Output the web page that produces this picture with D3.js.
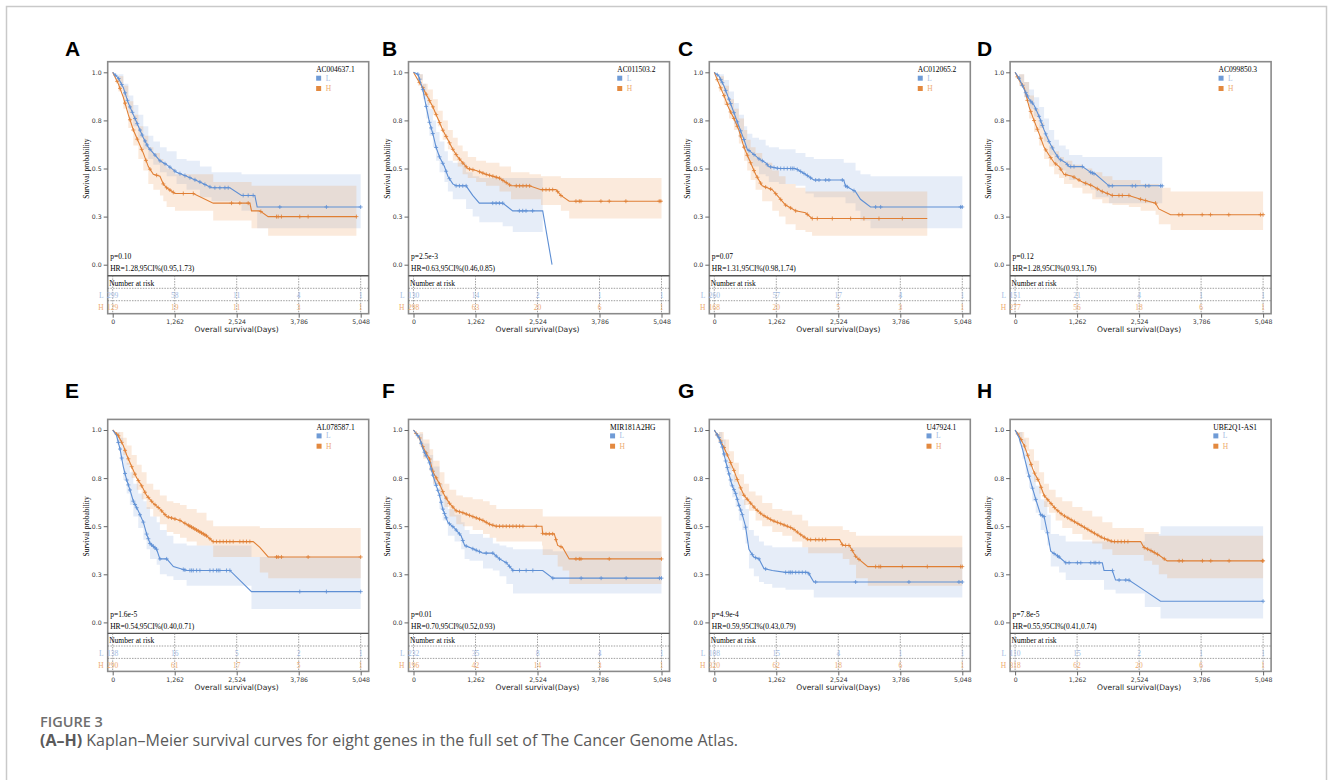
<!DOCTYPE html>
<html>
<head>
<meta charset="utf-8">
<script src="https://cdn.jsdelivr.net/npm/d3@7"></script>
<style>
body { margin: 0; background: #fff; }
</style>
</head>
<body>
<svg id="fig" width="1330" height="780"></svg>
<script>

var xMax = 5048;
var xTicks = [0, 1262, 2524, 3786, 5048];
var yTicks = [0, 0.25, 0.5, 0.75, 1];

var letters = ["A", "B", "C", "D", "E", "F", "G", "H"];
var genes = ["AC004637.1", "AC011503.2", "AC012065.2", "AC099850.3", "AL078587.1", "MIR181A2HG", "U47924.1", "UBE2Q1-AS1"];
var pTexts = ["p=0.10", "p=2.5e-3", "p=0.07", "p=0.12", "p=1.6e-5", "p=0.01", "p=4.9e-4", "p=7.8e-5"];
var hrTexts = ["HR=1.28,95CI%(0.95,1.73)", "HR=0.63,95CI%(0.46,0.85)", "HR=1.31,95CI%(0.98,1.74)", "HR=1.28,95CI%(0.93,1.76)",
               "HR=0.54,95CI%(0.40,0.71)", "HR=0.70,95CI%(0.52,0.93)", "HR=0.59,95CI%(0.43,0.79)", "HR=0.55,95CI%(0.41,0.74)"];

// number at risk at 0, 1262, 2524, 3786, 5048
var riskL = [[299, 58, 11, 4, 1], [130, 14, 2, 1, 1], [260, 57, 17, 4, 1], [151, 21, 4, 1, 1],
             [138, 16, 5, 2, 1], [232, 35, 8, 4, 1], [108, 15, 4, 1, 1], [110, 15, 2, 1, 1]];
var riskH = [[129, 19, 11, 3, 1], [298, 63, 20, 6, 1], [168, 20, 5, 3, 1], [277, 56, 18, 6, 1],
             [290, 61, 17, 5, 1], [196, 42, 14, 3, 1], [320, 62, 18, 6, 1], [318, 62, 20, 6, 1]];

// [day, survival, lower 95%, upper 95%]
var kmA_L = [[0,1,1,1],[115,0.97,0.94,0.99],[217,0.92,0.87,0.94],[318,0.84,0.79,0.88],[420,0.78,0.72,0.83],[522,0.72,0.66,0.78],[623,0.66,0.60,0.72],[725,0.61,0.55,0.67],[827,0.58,0.52,0.64],[962,0.54,0.48,0.61],[1098,0.52,0.46,0.59],[1301,0.48,0.42,0.55],[1504,0.46,0.39,0.54],[1775,0.43,0.35,0.51],[2012,0.40,0.33,0.48],[2385,0.40,0.33,0.48],[2622,0.36,0.28,0.47],[2893,0.36,0.28,0.47],[2941,0.30,0.19,0.47],[5048,0.30,0.19,0.47]];
var kmA_H = [[0,1,1,1],[115,0.94,0.90,0.98],[217,0.87,0.81,0.93],[318,0.78,0.71,0.85],[420,0.70,0.62,0.78],[522,0.64,0.55,0.72],[623,0.58,0.49,0.67],[725,0.51,0.42,0.61],[827,0.47,0.39,0.58],[962,0.46,0.36,0.55],[1030,0.42,0.33,0.53],[1098,0.40,0.30,0.50],[1267,0.37,0.28,0.47],[1640,0.37,0.28,0.47],[2046,0.32,0.23,0.43],[2792,0.32,0.23,0.43],[2826,0.28,0.19,0.41],[2995,0.28,0.19,0.41],[3164,0.25,0.15,0.41],[4960,0.25,0.15,0.41]];
var kmB_L = [[0,1,1,1],[90,0.99,0.96,0.99],[190,0.91,0.86,0.94],[260,0.82,0.76,0.88],[325,0.74,0.67,0.81],[395,0.68,0.61,0.75],[460,0.61,0.54,0.69],[530,0.56,0.48,0.64],[630,0.51,0.43,0.59],[700,0.46,0.38,0.54],[800,0.42,0.34,0.53],[870,0.41,0.34,0.53],[1070,0.41,0.29,0.48],[1205,0.36,0.25,0.46],[1340,0.32,0.22,0.45],[1815,0.32,0.20,0.45],[2020,0.28,0.17,0.45],[2630,0.28,0.17,0.45],[2820,0,null,null]];
var kmB_H = [[0,1,1,1],[90,0.96,0.93,0.99],[190,0.92,0.88,0.94],[290,0.87,0.83,0.91],[395,0.82,0.78,0.86],[495,0.76,0.72,0.80],[595,0.70,0.65,0.75],[700,0.65,0.60,0.70],[800,0.60,0.54,0.66],[900,0.56,0.51,0.62],[1000,0.53,0.47,0.59],[1105,0.50,0.45,0.56],[1275,0.49,0.43,0.54],[1475,0.47,0.41,0.53],[1750,0.45,0.38,0.51],[1985,0.41,0.34,0.48],[2360,0.41,0.34,0.47],[2595,0.39,0.31,0.46],[2900,0.39,0.31,0.46],[3000,0.36,0.28,0.45],[3170,0.33,0.24,0.45],[5048,0.33,0.24,0.45]];
var kmC_L = [[0,1,1,1],[95,0.98,0.95,0.99],[195,0.93,0.88,0.96],[300,0.86,0.80,0.90],[400,0.79,0.73,0.84],[500,0.72,0.66,0.78],[605,0.65,0.59,0.72],[670,0.60,0.54,0.68],[775,0.58,0.51,0.66],[910,0.55,0.47,0.65],[1045,0.53,0.46,0.62],[1110,0.51,0.43,0.61],[1315,0.50,0.42,0.60],[1655,0.50,0.41,0.58],[1855,0.47,0.37,0.56],[2025,0.44,0.35,0.55],[2635,0.44,0.35,0.53],[2670,0.41,0.32,0.53],[2875,0.38,0.28,0.49],[2975,0.34,0.23,0.47],[3180,0.30,0.19,0.46],[5048,0.30,0.19,0.46]];
var kmC_H = [[0,1,1,1],[95,0.94,0.90,0.98],[195,0.88,0.83,0.93],[300,0.81,0.76,0.86],[400,0.76,0.70,0.81],[500,0.70,0.63,0.76],[605,0.61,0.54,0.70],[670,0.57,0.49,0.65],[740,0.53,0.44,0.61],[840,0.47,0.39,0.58],[975,0.41,0.33,0.53],[1180,0.39,0.28,0.49],[1315,0.35,0.25,0.46],[1450,0.31,0.21,0.42],[1655,0.28,0.18,0.40],[1855,0.27,0.17,0.38],[1990,0.24,0.15,0.38],[4335,0.24,0.15,0.38]];
var kmD_L = [[0,1,1,1],[80,0.97,0.94,0.99],[185,0.91,0.87,0.95],[285,0.86,0.81,0.91],[385,0.83,0.77,0.87],[490,0.77,0.71,0.82],[590,0.70,0.64,0.76],[690,0.64,0.57,0.70],[795,0.59,0.53,0.65],[895,0.55,0.49,0.62],[1030,0.53,0.46,0.60],[1100,0.51,0.44,0.57],[1370,0.51,0.41,0.56],[1540,0.48,0.39,0.56],[1640,0.47,0.35,0.56],[1910,0.41,0.32,0.56],[2995,0.41,0.30,0.56]];
var kmD_H = [[0,1,1,1],[80,0.96,0.93,0.99],[185,0.92,0.87,0.95],[285,0.82,0.76,0.88],[385,0.75,0.69,0.81],[490,0.68,0.62,0.74],[590,0.61,0.55,0.67],[690,0.57,0.51,0.62],[795,0.53,0.47,0.59],[895,0.51,0.45,0.56],[995,0.47,0.42,0.54],[1165,0.46,0.40,0.52],[1370,0.43,0.37,0.50],[1570,0.41,0.34,0.48],[1775,0.38,0.32,0.46],[1980,0.36,0.31,0.44],[2315,0.36,0.30,0.44],[2555,0.34,0.28,0.42],[2860,0.32,0.26,0.42],[2925,0.29,0.21,0.40],[3165,0.26,0.18,0.38],[5048,0.26,0.18,0.38]];
var kmE_L = [[0,1,1,1],[80,0.97,0.93,0.99],[150,0.90,0.84,0.96],[215,0.81,0.74,0.89],[285,0.74,0.67,0.83],[350,0.69,0.61,0.78],[420,0.63,0.55,0.72],[520,0.58,0.49,0.67],[625,0.52,0.43,0.63],[690,0.46,0.38,0.60],[760,0.41,0.33,0.55],[895,0.38,0.30,0.52],[960,0.33,0.25,0.48],[1100,0.33,0.24,0.45],[1235,0.29,0.22,0.41],[1505,0.27,0.19,0.40],[2385,0.27,0.19,0.40],[2825,0.16,0.07,0.34],[5048,0.16,0.07,0.34]];
var kmE_H = [[0,1,1,1],[115,0.97,0.94,0.99],[215,0.92,0.87,0.96],[285,0.87,0.82,0.92],[385,0.81,0.75,0.87],[490,0.75,0.69,0.82],[590,0.71,0.64,0.78],[690,0.66,0.59,0.72],[825,0.62,0.55,0.69],[960,0.59,0.51,0.66],[1100,0.55,0.47,0.63],[1235,0.54,0.46,0.62],[1370,0.53,0.44,0.61],[1505,0.51,0.42,0.59],[1710,0.48,0.40,0.57],[1910,0.45,0.40,0.53],[2045,0.42,0.34,0.50],[2860,0.42,0.34,0.50],[2995,0.39,0.26,0.49],[3165,0.34,0.23,0.49],[5048,0.34,0.23,0.49]];
var kmF_L = [[0,1,1,1],[120,0.96,0.93,0.98],[195,0.90,0.86,0.93],[325,0.83,0.79,0.87],[400,0.76,0.71,0.81],[530,0.66,0.59,0.72],[595,0.59,0.53,0.66],[700,0.52,0.45,0.59],[835,0.49,0.42,0.56],[970,0.45,0.38,0.52],[1040,0.40,0.33,0.48],[1140,0.39,0.32,0.46],[1415,0.36,0.28,0.44],[1615,0.36,0.27,0.41],[1750,0.33,0.24,0.40],[1890,0.31,0.20,0.39],[2025,0.27,0.15,0.38],[2630,0.27,0.15,0.38],[2835,0.23,0.15,0.37],[5048,0.23,0.15,0.37]];
var kmF_H = [[0,1,1,1],[120,0.96,0.92,0.99],[195,0.91,0.85,0.95],[325,0.85,0.79,0.90],[400,0.78,0.72,0.84],[530,0.72,0.66,0.78],[630,0.66,0.60,0.72],[730,0.62,0.55,0.69],[870,0.58,0.51,0.66],[1005,0.57,0.50,0.65],[1205,0.55,0.48,0.64],[1415,0.53,0.46,0.63],[1550,0.51,0.44,0.61],[1685,0.50,0.42,0.59],[2615,0.50,0.40,0.59],[2630,0.46,0.35,0.55],[2865,0.46,0.35,0.55],[2935,0.40,0.29,0.55],[3035,0.39,0.27,0.55],[3170,0.33,0.20,0.55],[5048,0.33,0.20,0.55]];
var kmG_L = [[0,1,1,1],[95,0.96,0.93,0.99],[165,0.91,0.86,0.95],[230,0.84,0.78,0.88],[300,0.77,0.71,0.82],[365,0.71,0.65,0.77],[435,0.67,0.60,0.73],[500,0.61,0.53,0.68],[570,0.56,0.48,0.64],[635,0.50,0.41,0.59],[705,0.38,0.28,0.48],[805,0.34,0.24,0.45],[910,0.33,0.21,0.42],[1010,0.28,0.20,0.40],[1180,0.27,0.18,0.39],[1450,0.26,0.17,0.39],[1910,0.26,0.17,0.39],[2025,0.21,0.13,0.39],[5048,0.21,0.13,0.39]];
var kmG_H = [[0,1,1,1],[95,0.96,0.94,0.99],[195,0.91,0.88,0.95],[300,0.85,0.80,0.89],[400,0.79,0.73,0.83],[500,0.72,0.66,0.77],[605,0.66,0.61,0.72],[705,0.63,0.58,0.68],[840,0.59,0.53,0.66],[975,0.56,0.50,0.62],[1180,0.53,0.47,0.59],[1385,0.51,0.45,0.58],[1585,0.49,0.42,0.56],[1790,0.45,0.39,0.53],[1910,0.43,0.36,0.50],[2550,0.43,0.36,0.50],[2615,0.40,0.33,0.48],[2750,0.40,0.30,0.47],[2885,0.34,0.23,0.45],[3125,0.29,0.19,0.45],[5048,0.29,0.19,0.45]];
var kmH_L = [[0,1,1,1],[80,0.96,0.93,0.99],[150,0.90,0.85,0.95],[215,0.83,0.77,0.88],[285,0.76,0.70,0.82],[350,0.70,0.63,0.77],[420,0.64,0.57,0.71],[520,0.56,0.48,0.64],[590,0.55,0.47,0.63],[655,0.47,0.40,0.56],[725,0.37,0.29,0.46],[895,0.34,0.26,0.45],[1030,0.31,0.22,0.42],[1775,0.31,0.22,0.42],[1810,0.27,0.17,0.42],[1980,0.27,0.17,0.42],[2045,0.22,0.15,0.42],[2315,0.22,0.15,0.42],[2640,0.165,0.08,0.46],[2960,0.11,0.02,0.50],[5048,0.11,0.02,0.50]];
var kmH_H = [[0,1,1,1],[80,0.97,0.94,0.99],[185,0.92,0.89,0.96],[285,0.85,0.81,0.90],[385,0.78,0.73,0.84],[490,0.73,0.67,0.78],[590,0.66,0.60,0.72],[690,0.63,0.57,0.69],[825,0.59,0.53,0.65],[960,0.56,0.49,0.63],[1165,0.53,0.46,0.60],[1370,0.50,0.43,0.58],[1570,0.47,0.41,0.55],[1775,0.44,0.38,0.52],[1980,0.42,0.35,0.49],[2555,0.42,0.35,0.49],[2620,0.39,0.32,0.47],[2790,0.37,0.30,0.47],[2925,0.35,0.25,0.45],[3095,0.32,0.23,0.45],[5048,0.32,0.23,0.45]];

// censored days ("+" marks)
var cenA_L = [60,120,183,251,300,352,400,454,500,556,600,657,700,759,861,962,1064,1165,1267,1369,1470,1572,1674,1775,1877,1979,2080,2182,2284,2351,2656,2758,2859,3402,4350,5048];
var cenA_H = [90,149,251,352,420,501,590,678,759,894,1030,1098,1165,1233,1437,1640,2419,2588,2758,3015,3334,3368,3435,3808,3978,4960];
var cenB_L = [88,122,190,258,325,359,393,461,529,596,664,732,867,935,1003,1071,1613,1681,1748,1816,2155,2223,2290,2425];
var cenB_H = [122,190,258,326,394,462,530,597,665,733,801,869,937,1005,1073,1141,1209,1345,1413,1481,1549,1616,1684,1752,1820,1888,1956,2092,2160,2228,2296,2364,2629,2697,2765,2833,2934,3002,3307,3375,3409,3815,3984,4323,5001,5035];
var cenC_L = [61,129,163,231,299,332,400,468,536,604,706,808,909,977,1079,1147,1215,1283,1351,1419,1486,1554,1588,1622,1690,1758,1826,1894,1961,2063,2131,2267,2334,2606,2673,2707,2843,3284,3386,5014,5048];
var cenC_H = [61,129,197,265,332,400,468,536,604,672,740,808,875,943,1045,1147,1249,1351,1452,1554,1656,1893,1995,2097,2402,2775,3046,3352,3827,4336];
var cenD_L = [81,149,217,251,318,352,420,488,522,556,623,691,759,861,928,1064,1132,1199,1369,1538,1572,1606,1911,1979,2385,2453,2656,2724,2961,2995];
var cenD_H = [47,149,251,318,386,454,522,623,725,827,928,1030,1199,1301,1437,1538,1674,1775,1877,1979,2114,2182,2317,2555,2656,2859,3334,3402,3808,3978,4350,4994,5048];
var cenE_L = [115,149,183,251,285,318,352,420,454,488,556,623,691,725,759,793,827,861,894,962,1098,1437,1470,1572,1606,1640,1708,1775,1979,2046,2114,2148,2182,2317,2385,3808,4350,5048];
var cenE_H = [80,115,183,251,318,386,454,522,590,657,725,793,861,928,996,1064,1132,1199,1267,1369,1470,1538,1572,1606,1640,1674,1708,1741,1775,1809,1843,1877,1911,1979,2046,2114,2182,2250,2317,2385,2453,2588,2656,2724,2792,3334,3368,3435,3978,5048];
var cenF_L = [88,156,224,258,326,360,394,462,495,529,563,597,631,665,733,801,869,936,1004,1072,1208,1276,1343,1479,1615,1683,1751,1886,1954,2022,2158,2293,2429,2836,3412,3819,4328,5007,5048];
var cenF_H = [54,122,190,258,326,394,462,530,597,665,733,801,869,937,1005,1073,1141,1209,1277,1345,1413,1481,1549,1616,1684,1752,1820,1888,1956,2024,2092,2160,2228,2500,2629,2697,2765,2833,2900,3002,3307,3375,3409,3984,5048];
var cenG_L = [61,95,129,163,197,231,265,298,332,366,400,434,468,502,536,570,638,774,841,909,1045,1452,1520,1554,1588,1656,1723,1791,1859,1927,2063,2877,3962,4980,5048];
var cenG_H = [61,129,197,265,332,400,468,536,604,672,740,808,875,943,1011,1079,1147,1215,1283,1351,1419,1486,1554,1622,1690,1758,1826,1894,1961,2063,2131,2200,2267,2606,2673,2741,2809,2877,2945,3284,3352,3386,3827,4336,5014,5048];
var cenH_L = [285,353,421,522,556,590,658,794,862,896,1031,1099,1269,1337,1540,1608,1642,1710,1981,2117,2253,2320,5048];
var cenH_H = [54,122,190,258,326,394,462,530,597,665,733,801,869,937,1005,1073,1141,1209,1277,1345,1413,1481,1549,1616,1684,1752,1820,1888,1956,2024,2092,2160,2228,2296,2629,2697,2765,2833,2900,3036,3338,3406,3813,3983,4356,5034,5048];

var curves = [[kmA_L, kmA_H], [kmB_L, kmB_H], [kmC_L, kmC_H], [kmD_L, kmD_H],
              [kmE_L, kmE_H], [kmF_L, kmF_H], [kmG_L, kmG_H], [kmH_L, kmH_H]];
var censors = [[cenA_L, cenA_H], [cenB_L, cenB_H], [cenC_L, cenC_H], [cenD_L, cenD_H],
               [cenE_L, cenE_H], [cenF_L, cenF_H], [cenG_L, cenG_H], [cenH_L, cenH_H]];

// layout
var colX = [107.7, 408.5, 709.3, 1010.1];
var rowY = [61.7, 419.4];
var letterX = [65, 382, 678, 977];
var letterY = [56, 398];
var pw = 261, ph = 214, rh = 38;

var groups = [
    {name: "L", line: "#5e8fd4", band: "rgba(98,140,210,0.16)", key: "#6f9bd6", faded: "#a3bbe2"},
    {name: "H", line: "#e07f34", band: "rgba(238,160,95,0.22)", key: "#e3893f", faded: "#eeac72"}
];

var serif = "'Liberation Serif', 'Times New Roman', serif";
var sans = "'DejaVu Sans', Verdana, sans-serif";

var x = d3.scaleLinear().domain([0, xMax]).range([5, 253]);
var y = d3.scaleLinear().domain([0, 1]).range([203, 10.6]);

var svg = d3.select("#fig");

svg.append("rect")
    .attr("x", 6.5).attr("y", 6.5)
    .attr("width", 1320).attr("height", 800)
    .attr("fill", "none")
    .attr("stroke", "#c9c9c9")
    .attr("stroke-width", 1.5);

function survAt(curve, t) {
    var i = d3.bisector(function(d) { return d[0]; }).right(curve, t);
    if (i <= 0) return curve[0][1];
    if (i >= curve.length) return curve[curve.length - 1][1];
    var a = curve[i - 1], b = curve[i];
    return a[1] + (b[1] - a[1]) * (t - a[0]) / (b[0] - a[0]);
}

function drawPanel(g, k) {

    var area = d3.area()
        .defined(function(d) { return d[2] != null; })
        .x(function(d) { return x(d[0]); })
        .y0(function(d) { return y(d[2]); })
        .y1(function(d) { return y(d[3]); })
        .curve(d3.curveStepAfter);

    var line = d3.line()
        .x(function(d) { return x(d[0]); })
        .y(function(d) { return y(d[1]); });

    // confidence bands
    groups.forEach(function(gr, j) {
        g.append("path")
            .attr("d", area(curves[k][j]))
            .attr("fill", gr.band);
    });

    // curves + censor marks
    [1, 0].forEach(function(j) {
        var gr = groups[j];
        var curve = curves[k][j];
        var last = curve[curve.length - 1][0];
        g.append("path")
            .attr("d", line(curve))
            .attr("fill", "none")
            .attr("stroke", gr.line)
            .attr("stroke-width", 1.1);
        g.selectAll(null)
            .data(censors[k][j].filter(function(t) { return t <= last; }))
            .enter()
            .append("path")
            .attr("d", "M-2,0H2M0,-2V2")
            .attr("transform", function(t) { return "translate(" + x(t) + "," + y(survAt(curve, t)) + ")"; })
            .attr("stroke", gr.line)
            .attr("stroke-width", 0.8)
            .attr("fill", "none");
    });

    // frame
    g.append("rect")
        .attr("x", 0).attr("y", 0)
        .attr("width", pw).attr("height", ph + rh)
        .attr("fill", "none")
        .attr("stroke", "#8a8a8a")
        .attr("stroke-width", 1.6);
    g.append("line")
        .attr("x1", 0).attr("x2", pw)
        .attr("y1", ph).attr("y2", ph)
        .attr("stroke", "#555")
        .attr("stroke-width", 1.4);

    // y axis
    var ya = g.append("g")
        .call(d3.axisLeft(y).tickValues(yTicks).tickFormat(d3.format(".1f")).tickSize(4).tickPadding(2));
    ya.select(".domain").remove();
    ya.selectAll("line").attr("stroke", "#666");
    ya.selectAll("text").attr("font-family", sans).attr("font-size", "6.2px").attr("fill", "#333");

    g.append("text")
        .attr("transform", "translate(-19," + (ph / 2) + ") rotate(-90)")
        .attr("text-anchor", "middle")
        .attr("font-family", serif)
        .attr("font-size", "7.5px")
        .text("Survival probability");

    // x axis
    var xa = g.append("g")
        .attr("transform", "translate(0," + (ph + rh) + ")")
        .call(d3.axisBottom(x).tickValues(xTicks).tickFormat(d3.format(",")).tickSize(4).tickPadding(2));
    xa.select(".domain").remove();
    xa.selectAll("line").attr("stroke", "#666");
    xa.selectAll("text").attr("font-family", sans).attr("font-size", "6.2px").attr("fill", "#333");

    g.append("text")
        .attr("x", x(xMax / 2))
        .attr("y", ph + rh + 18.5)
        .attr("text-anchor", "middle")
        .attr("font-family", sans)
        .attr("font-size", "7.6px")
        .attr("fill", "#222")
        .text("Overall survival(Days)");

    // number at risk table
    g.selectAll(null)
        .data(xTicks)
        .enter()
        .append("line")
        .attr("x1", function(d) { return x(d); })
        .attr("x2", function(d) { return x(d); })
        .attr("y1", ph).attr("y2", ph + rh)
        .attr("stroke", "#777")
        .attr("stroke-width", 0.7)
        .attr("stroke-dasharray", "1.5,1.2");
    [ph + 12.6, ph + 25].forEach(function(yy) {
        g.append("line")
            .attr("x1", 0).attr("x2", pw)
            .attr("y1", yy).attr("y2", yy)
            .attr("stroke", "#777")
            .attr("stroke-width", 0.7)
            .attr("stroke-dasharray", "1.5,1.2");
    });
    g.append("text")
        .attr("x", 1.5).attr("y", ph + 10)
        .attr("font-family", serif)
        .attr("font-size", "7.5px")
        .text("Number at risk");

    [riskL[k], riskH[k]].forEach(function(row, j) {
        var yy = ph + 22.5 + j * 12;
        g.append("text")
            .attr("x", -4).attr("y", yy)
            .attr("text-anchor", "end")
            .attr("font-family", serif)
            .attr("font-size", "7.5px")
            .attr("fill", groups[j].faded)
            .text(groups[j].name);
        g.selectAll(null)
            .data(row)
            .enter()
            .append("text")
            .attr("x", function(d, i) { return x(xTicks[i]); })
            .attr("y", yy)
            .attr("text-anchor", "middle")
            .attr("font-family", serif)
            .attr("font-size", "7.5px")
            .attr("fill", groups[j].faded)
            .text(function(d) { return d; });
    });

    // p value and HR
    g.append("text")
        .attr("x", 2.5).attr("y", 197.5)
        .attr("font-family", serif)
        .attr("font-size", "7.5px")
        .text(pTexts[k]);
    g.append("text")
        .attr("x", 2.5).attr("y", 209.5)
        .attr("font-family", serif)
        .attr("font-size", "7.5px")
        .text(hrTexts[k]);

    // legend
    var title = g.append("text")
        .attr("x", 247).attr("y", 10.5)
        .attr("text-anchor", "end")
        .attr("font-family", serif)
        .attr("font-size", "7.5px")
        .text(genes[k]);
    var lx = 247 - title.node().getComputedTextLength();
    groups.forEach(function(gr, j) {
        g.append("rect")
            .attr("x", lx).attr("y", 14 + j * 10.3)
            .attr("width", 5).attr("height", 5)
            .attr("fill", gr.key);
        g.append("text")
            .attr("x", lx + 9.5).attr("y", 19 + j * 10.3)
            .attr("font-family", serif)
            .attr("font-size", "7.5px")
            .attr("fill", gr.faded)
            .text(gr.name);
    });
}

letters.forEach(function(lt, i) {
    var r = Math.floor(i / 4), c = i % 4;
    svg.append("text")
        .attr("x", letterX[c]).attr("y", letterY[r])
        .attr("font-family", "'Liberation Sans', Arial, sans-serif")
        .attr("font-weight", "bold")
        .attr("font-size", "21px")
        .text(lt);
    var g = svg.append("g").attr("transform", "translate(" + colX[c] + "," + rowY[r] + ")");
    drawPanel(g, i);
});

// caption
svg.append("text")
    .attr("x", 40).attr("y", 727)
    .attr("font-family", "'Open Sans', sans-serif")
    .attr("font-weight", 600)
    .attr("font-size", "14.5px")
    .attr("fill", "#6e6e6e")
    .text("FIGURE 3");
var cap = svg.append("text")
    .attr("x", 40).attr("y", 746)
    .attr("font-family", "'Open Sans', sans-serif")
    .attr("font-size", "16px")
    .attr("fill", "#5a5a5a");
cap.append("tspan").attr("font-weight", "bold").text("(A\u2013H)");
cap.append("tspan").text(" Kaplan\u2013Meier survival curves for eight genes in the full set of The Cancer Genome Atlas.");

</script>
</body>
</html>
